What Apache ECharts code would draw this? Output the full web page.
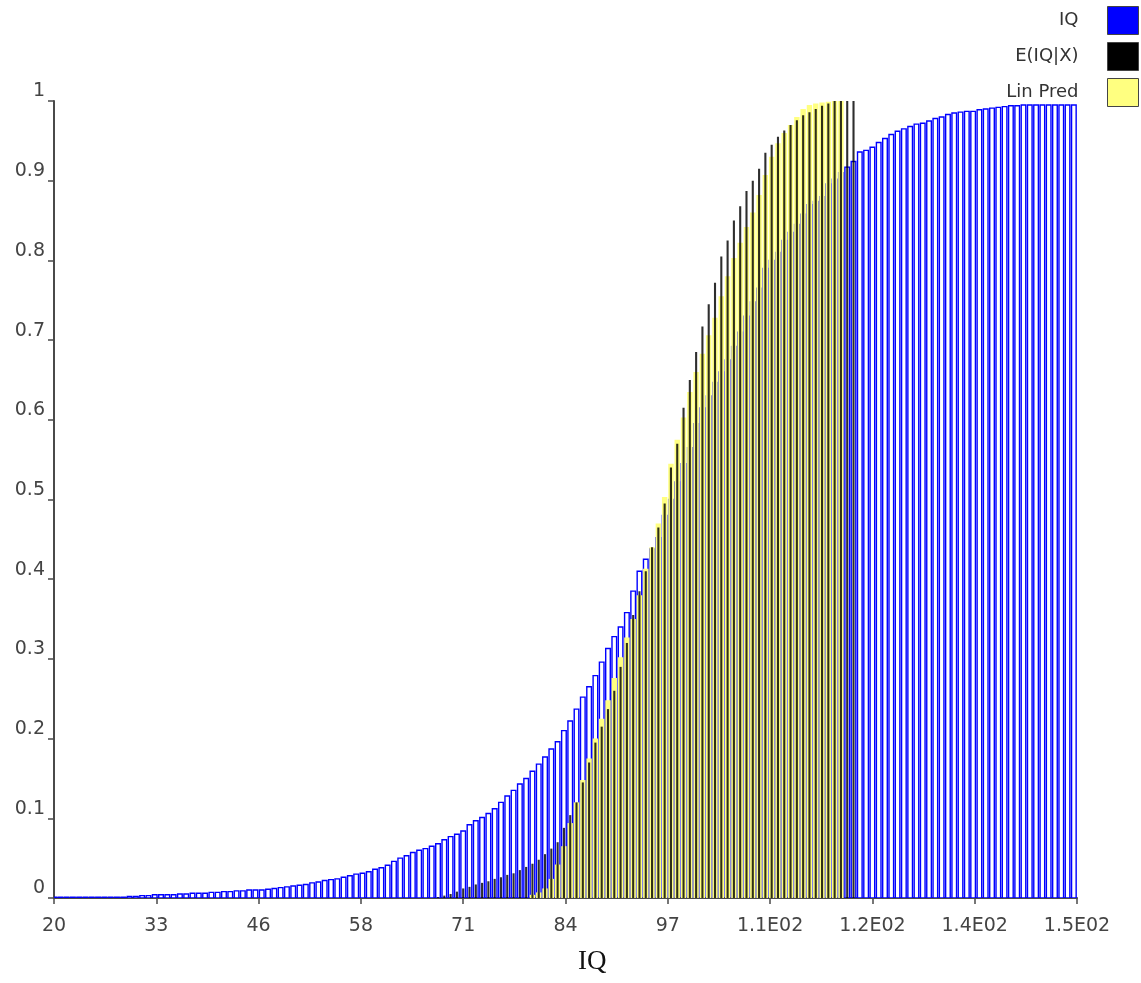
<!DOCTYPE html>
<html><head><meta charset="utf-8">
<script src="https://cdn.jsdelivr.net/npm/echarts@6/dist/echarts.min.js"></script>
<style>html,body{margin:0;padding:0;background:#fff}#c{width:1141px;height:983px}</style>
</head><body><div id="c"></div>
<script>
// IQ (observed) cumulative proportions
const iqX = [
20,20.8,21.6,22.4,23.2,24,24.8,25.6,26.4,27.2,
28,28.8,29.6,30.4,31.2,32,32.8,33.6,34.4,35.2,
36,36.8,37.6,38.4,39.2,40,40.8,41.6,42.4,43.2,
44,44.8,45.6,46.4,47.2,48,48.8,49.6,50.4,51.2,
52,52.8,53.6,54.4,55.2,56,56.8,57.6,58.4,59.2,
60,60.8,61.6,62.4,63.2,64,64.8,65.6,66.4,67.2,
68,68.8,69.6,70.4,71.2,72,72.8,73.6,74.4,75.2,
76,76.8,77.6,78.4,79.2,80,80.8,81.6,82.4,83.2,
84,84.8,85.6,86.4,87.2,88,88.8,89.6,90.4,91.2,
92,92.8,93.6,94.4,95.2,96,96.8,97.6,98.4,99.2,
100,100.8,101.6,102.4,103.2,104,104.8,105.6,106.4,107.2,
108,108.8,109.6,110.4,111.2,112,112.8,113.6,114.4,115.2,
116,116.8,117.6,118.4,119.2,120,120.8,121.6,122.4,123.2,
124,124.8,125.6,126.4,127.2,128,128.8,129.6,130.4,131.2,
132,132.8,133.6,134.4,135.2,136,136.8,137.6,138.4,139.2,
140,140.8,141.6,142.4,143.2,144,144.8,145.6,146.4,147.2,
148,148.8,149.6];
const iqCdf = [
0.001,0.001,0.001,0.001,0.001,0.001,0.001,0.001,0.001,0.001,
0.001,0.001,0.002,0.002,0.003,0.003,0.004,0.004,0.004,0.004,
0.005,0.005,0.006,0.006,0.006,0.007,0.007,0.008,0.008,0.009,
0.009,0.010,0.010,0.010,0.011,0.012,0.013,0.014,0.015,0.016,
0.017,0.019,0.020,0.022,0.023,0.024,0.026,0.028,0.030,0.031,
0.033,0.036,0.038,0.041,0.046,0.050,0.053,0.057,0.060,0.062,
0.065,0.068,0.073,0.077,0.080,0.084,0.092,0.097,0.101,0.106,
0.112,0.120,0.128,0.135,0.143,0.150,0.159,0.168,0.177,0.187,
0.196,0.210,0.222,0.237,0.252,0.265,0.279,0.296,0.313,0.328,
0.340,0.358,0.385,0.410,0.425,0.438,0.452,0.480,0.500,0.522,
0.545,0.565,0.595,0.615,0.630,0.647,0.660,0.675,0.692,0.710,
0.730,0.748,0.765,0.790,0.800,0.810,0.825,0.835,0.845,0.858,
0.870,0.874,0.880,0.896,0.902,0.910,0.917,0.924,0.936,0.938,
0.942,0.948,0.953,0.958,0.962,0.965,0.968,0.971,0.972,0.975,
0.978,0.980,0.983,0.985,0.986,0.987,0.987,0.989,0.990,0.991,
0.992,0.993,0.994,0.994,0.995,0.995,0.995,0.995,0.995,0.995,
0.995,0.995,0.995];

// E(IQ|X) cumulative proportions
const condX = [
68.8,69.6,70.4,71.2,72,72.8,73.6,74.4,75.2,76,
76.8,77.6,78.4,79.2,80,80.8,81.6,82.4,83.2,84,
84.8,85.6,86.4,87.2,88,88.8,89.6,90.4,91.2,92,
92.8,93.6,94.4,95.2,96,96.8,97.6,98.4,99.2,100,
100.8,101.6,102.4,103.2,104,104.8,105.6,106.4,107.2,108,
108.8,109.6,110.4,111.2,112,112.8,113.6,114.4,115.2,116,
116.8,117.6,118.4,119.2,120,120.8,121.6];
const condCdf = [
0.001,0.003,0.005,0.008,0.012,0.014,0.017,0.019,0.021,0.024,
0.026,0.029,0.031,0.035,0.039,0.043,0.048,0.055,0.062,0.070,
0.088,0.104,0.120,0.145,0.170,0.195,0.215,0.237,0.260,0.290,
0.320,0.355,0.385,0.410,0.440,0.465,0.495,0.540,0.570,0.615,
0.650,0.685,0.717,0.745,0.772,0.805,0.825,0.850,0.868,0.887,
0.900,0.915,0.935,0.945,0.955,0.963,0.970,0.976,0.982,0.986,
0.990,0.994,0.997,1.000,1.000,1.000,1.000];

// Lin Pred cumulative proportions
const linX = [
80.8,81.6,82.4,83.2,84,84.8,85.6,86.4,87.2,88,
88.8,89.6,90.4,91.2,92,92.8,93.6,94.4,95.2,96,
96.8,97.6,98.4,99.2,100,100.8,101.6,102.4,103.2,104,
104.8,105.6,106.4,107.2,108,108.8,109.6,110.4,111.2,112,
112.8,113.6,114.4,115.2,116,116.8,117.6,118.4,119.2,120];
const linCdf = [
0.004,0.007,0.012,0.024,0.042,0.065,0.094,0.120,0.148,0.175,
0.200,0.225,0.248,0.276,0.302,0.327,0.350,0.380,0.413,0.440,
0.470,0.503,0.545,0.575,0.603,0.635,0.660,0.683,0.706,0.728,
0.755,0.780,0.803,0.822,0.842,0.860,0.882,0.907,0.930,0.947,
0.960,0.970,0.980,0.990,0.995,0.997,0.998,0.999,1.000,1.000];

const xTickLabels = ['20','33','46','58','71','84','97','1.1E02','1.2E02','1.4E02','1.5E02'];
const yTickLabels = ['0','0.1','0.2','0.3','0.4','0.5','0.6','0.7','0.8','0.9','1'];
const seriesNames = ['IQ', 'E(IQ|X)', 'Lin Pred'];
const axisTitle = 'IQ';

function pairs(xs, ys) { return xs.map((x, i) => [x, ys[i]]); }

// bar drawn through the chart's own axes (api.coord), fixed pixel width
function barRenderer(width, style) {
  return function (params, api) {
    const x = api.value(0), y = api.value(1);
    const top = api.coord([x, y]);
    const base = api.coord([x, 0]);
    return {
      type: 'rect',
      shape: { x: top[0] - width / 2, y: top[1], width: width, height: base[1] - top[1] },
      style: style
    };
  };
}

const FONT = 'DejaVu Sans';
const AX = '#4a4a4a';

const chart = echarts.init(document.getElementById('c'), null, { renderer: 'canvas' });
chart.setOption({
  animation: false,
  backgroundColor: '#ffffff',
  grid: { left: 54, right: 64, top: 101, bottom: 85 },
  legend: {
    orient: 'vertical', right: -3, top: 1, align: 'right',
    itemWidth: 31, itemHeight: 28, itemGap: 7, icon: 'rect',
    textStyle: { fontFamily: FONT, fontSize: 18, color: '#333', padding: [0, 24, 0, 0] },
    data: [
      { name: seriesNames[0], itemStyle: { color: '#0000ff', borderColor: '#444', borderWidth: 1 } },
      { name: seriesNames[1], itemStyle: { color: '#000000', borderColor: '#444', borderWidth: 1 } },
      { name: seriesNames[2], itemStyle: { color: '#ffff80', borderColor: '#444', borderWidth: 1 } }
    ]
  },
  xAxis: {
    type: 'value', min: 20, max: 150, interval: 13,
    axisLine: { lineStyle: { color: AX, width: 2 } },
    axisTick: { length: 6, lineStyle: { color: AX, width: 1.5 } },
    axisLabel: { fontFamily: FONT, fontSize: 19, color: '#444', margin: 19,
      formatter: v => xTickLabels[Math.round((v - 20) / 13)] },
    splitLine: { show: false }
  },
  yAxis: {
    type: 'value', min: 0, max: 1, interval: 0.1,
    axisLine: { show: true, lineStyle: { color: AX, width: 2 } },
    axisTick: { show: true, length: 6, lineStyle: { color: AX, width: 1.5 } },
    axisLabel: { fontFamily: FONT, fontSize: 19, color: '#444', margin: 9, verticalAlign: 'bottom',
      formatter: v => yTickLabels[Math.round(v * 10)] },
    splitLine: { show: false }
  },
  series: [
    { name: seriesNames[0], type: 'custom', data: pairs(iqX, iqCdf), encode: { x: 0, y: 1 },
      itemStyle: { color: '#0000ff' }, z: 2, clip: true,
      renderItem: barRenderer(4.6, { fill: '#ffffff', stroke: '#0000ff', lineWidth: 1.4 }) },
    { name: seriesNames[2], type: 'custom', data: pairs(linX, linCdf), encode: { x: 0, y: 1 },
      itemStyle: { color: '#ffff80' }, z: 3, clip: true,
      renderItem: barRenderer(5.4, { fill: '#ffff80' }) },
    { name: seriesNames[1], type: 'custom', data: pairs(condX, condCdf), encode: { x: 0, y: 1 },
      itemStyle: { color: '#000000' }, z: 4, clip: true,
      renderItem: barRenderer(2.1, { fill: 'rgba(0,0,0,0.82)' }) }
  ],
  graphic: [
    { type: 'text', left: 578, top: 948,
      style: { text: axisTitle, font: '27px "Liberation Serif"', fill: '#111' } }
  ]
});
</script>
</body></html>
